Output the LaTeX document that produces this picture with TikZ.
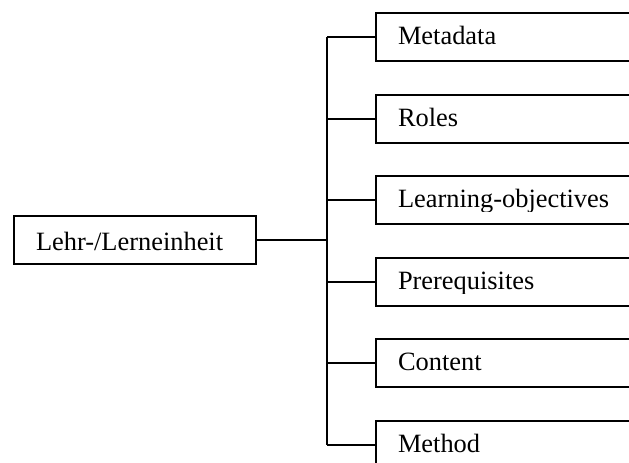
\documentclass[tikz,border=0pt]{standalone}
\usepackage{fontspec}
\setmainfont{Liberation Serif}
\begin{document}
\begin{tikzpicture}[x=1pt,y=-1pt, line width=2pt,
  box/.style={draw, rectangle, minimum height=48pt, inner sep=0pt},
  lbl/.style={anchor=base west, inner sep=0pt, font=\fontsize{26.4}{30}\selectfont}]
\useasboundingbox (0,0) rectangle (629,463);
\clip (0,0) rectangle (629,463);
% root
\node[box, minimum width=242pt, minimum height=48pt, anchor=north west] (root) at (13,215) {};
\node[lbl] (rootlbl) at (35,250) {Lehr-/Lerneinheit};
\coordinate (trunk) at (327,239);
% children
\foreach \nm/\lab/\ytop in {meta/Metadata/12, roles/Roles/94, lo/Learning-objectives/175, pre/Prerequisites/257, con/Content/338, met/Method/420} {
  \node[box, minimum width=290pt, anchor=north west] (\nm) at (375,\ytop) {};
  \begin{scope}
    \clip (375,\ytop) rectangle (660,\ytop+36.5);
    \node[lbl] (\nm-t) at (397,\ytop+32) {\lab};
  \end{scope}
  \draw (trunk |- \nm.west) -- (\nm.west);
}
\draw (trunk |- meta.west) -- (trunk |- met.west);
\draw (root.east) -- (root.east -| trunk);
\end{tikzpicture}
\end{document}
